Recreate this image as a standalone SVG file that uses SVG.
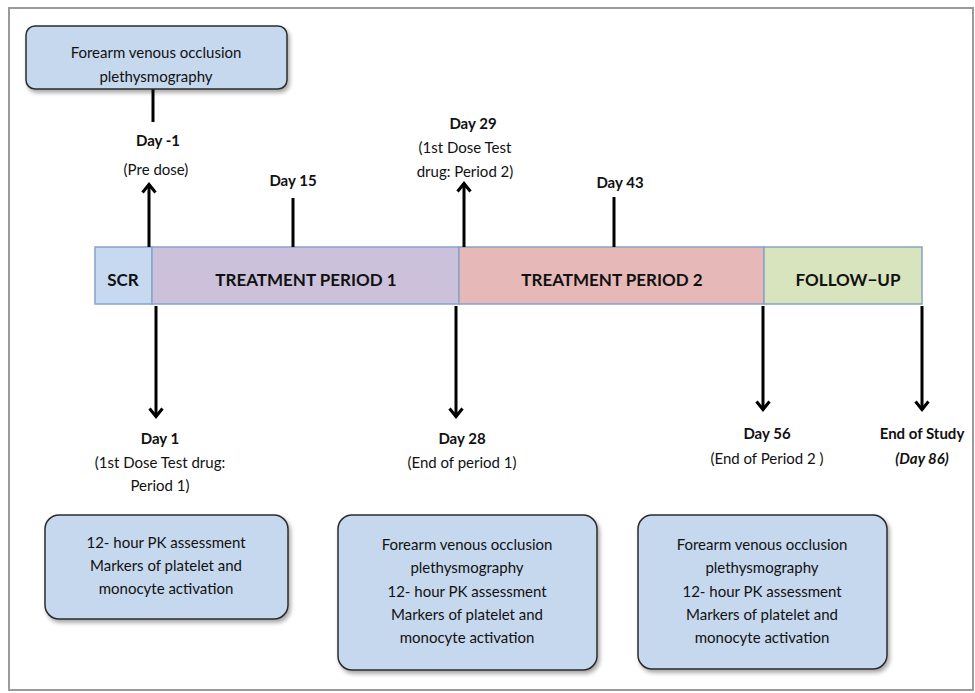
<svg xmlns="http://www.w3.org/2000/svg" width="975" height="693" viewBox="0 0 975 693">
<style>
text{font-family:Lato,"Open Sans","Liberation Sans",sans-serif;fill:#111;text-anchor:middle}
.t{font-size:15px}
.b{font-size:15px;font-weight:bold}
.bar{font-size:17px;font-weight:bold}
.box{fill:#c6d8ee;stroke:#2b2b2b;stroke-width:1.5}
.seg{stroke:#86a3c9;stroke-width:1.5}
.ln{stroke:#000;stroke-width:3;fill:none}
</style>
<defs>
<filter id="sh" x="-10%" y="-10%" width="130%" height="130%">
<feDropShadow dx="2" dy="3" stdDeviation="2" flood-color="#000" flood-opacity="0.35"/>
</filter>
<marker id="ah" viewBox="0 0 12 16" refX="10" refY="8" markerWidth="12" markerHeight="16" markerUnits="userSpaceOnUse" orient="auto">
<polyline points="1.5,1.5 9.5,8 1.5,14.5" fill="none" stroke="#000" stroke-width="3" stroke-linejoin="miter"/>
</marker>
</defs>
<rect x="9" y="8" width="964" height="682" fill="#fff" stroke="#9a9a9a" stroke-width="2"/>

<g id="timeline">
<rect id="scr" class="seg" x="95" y="247" width="57" height="57" fill="#c6d9f0"/>
<rect id="tp1" class="seg" x="152" y="247" width="307" height="57" fill="#ccc1da"/>
<rect id="tp2" class="seg" x="459" y="247" width="305" height="57" fill="#e6b9b8"/>
<rect id="fu" class="seg" x="764" y="247" width="158" height="57" fill="#d8e4bd"/>
<text class="bar" x="123" y="286">SCR</text>
<text class="bar" x="306" y="286">TREATMENT PERIOD 1</text>
<text class="bar" x="612" y="286">TREATMENT PERIOD 2</text>
<text class="bar" x="848" y="286">FOLLOW−UP</text>
</g>

<g id="connectors">
<line class="ln" x1="153" y1="89" x2="153" y2="122"/>
<line class="ln" x1="149" y1="247" x2="149" y2="184" marker-end="url(#ah)"/>
<line class="ln" x1="293" y1="198" x2="293" y2="247"/>
<line class="ln" x1="464" y1="247" x2="464" y2="183" marker-end="url(#ah)"/>
<line class="ln" x1="614" y1="197" x2="614" y2="247"/>
<line class="ln" x1="156" y1="306" x2="156" y2="417" marker-end="url(#ah)"/>
<line class="ln" x1="456" y1="306" x2="456" y2="417" marker-end="url(#ah)"/>
<line class="ln" x1="763" y1="306" x2="763" y2="410" marker-end="url(#ah)"/>
<line class="ln" x1="922" y1="306" x2="922" y2="410" marker-end="url(#ah)"/>
</g>

<g id="top-box">
<rect class="box" x="26" y="26" width="261" height="63" rx="9" filter="url(#sh)"/>
<text class="t" x="156" y="58">Forearm venous occlusion</text>
<text class="t" x="156" y="82">plethysmography</text>
</g>

<g id="day-minus1">
<text class="b" x="158" y="146">Day -1</text>
<text class="t" x="156" y="175">(Pre dose)</text>
</g>
<g id="day15"><text class="b" x="293" y="186">Day 15</text></g>
<g id="day29">
<text class="b" x="473" y="129">Day 29</text>
<text class="t" x="465" y="153">(1st Dose Test</text>
<text class="t" x="465" y="177">drug: Period 2)</text>
</g>
<g id="day43"><text class="b" x="620" y="188">Day 43</text></g>

<g id="day1">
<text class="b" x="160" y="444">Day 1</text>
<text class="t" x="160" y="468">(1st Dose Test drug:</text>
<text class="t" x="160" y="491">Period 1)</text>
</g>
<g id="day28">
<text class="b" x="462" y="444">Day 28</text>
<text class="t" x="462" y="468">(End of period 1)</text>
</g>
<g id="day56">
<text class="b" x="767" y="439">Day 56</text>
<text class="t" x="767" y="464">(End of Period 2 )</text>
</g>
<g id="end-study">
<text class="b" x="922" y="439">End of Study</text>
<text class="b" x="922" y="464" font-style="italic">(Day 86)</text>
</g>

<g id="box1">
<rect class="box" x="45" y="515" width="243" height="104" rx="14" filter="url(#sh)"/>
<text class="t" x="166" y="548">12- hour PK assessment</text>
<text class="t" x="166" y="571">Markers of platelet and</text>
<text class="t" x="166" y="594">monocyte activation</text>
</g>
<g id="box2">
<rect class="box" x="338" y="515" width="259" height="155" rx="14" filter="url(#sh)"/>
<text class="t" x="467" y="550">Forearm venous occlusion</text>
<text class="t" x="467" y="573">plethysmography</text>
<text class="t" x="467" y="597">12- hour PK assessment</text>
<text class="t" x="467" y="620">Markers of platelet and</text>
<text class="t" x="467" y="643">monocyte activation</text>
</g>
<g id="box3">
<rect class="box" x="638" y="515" width="249" height="154" rx="14" filter="url(#sh)"/>
<text class="t" x="762" y="550">Forearm venous occlusion</text>
<text class="t" x="762" y="573">plethysmography</text>
<text class="t" x="762" y="597">12- hour PK assessment</text>
<text class="t" x="762" y="620">Markers of platelet and</text>
<text class="t" x="762" y="643">monocyte activation</text>
</g>
</svg>
